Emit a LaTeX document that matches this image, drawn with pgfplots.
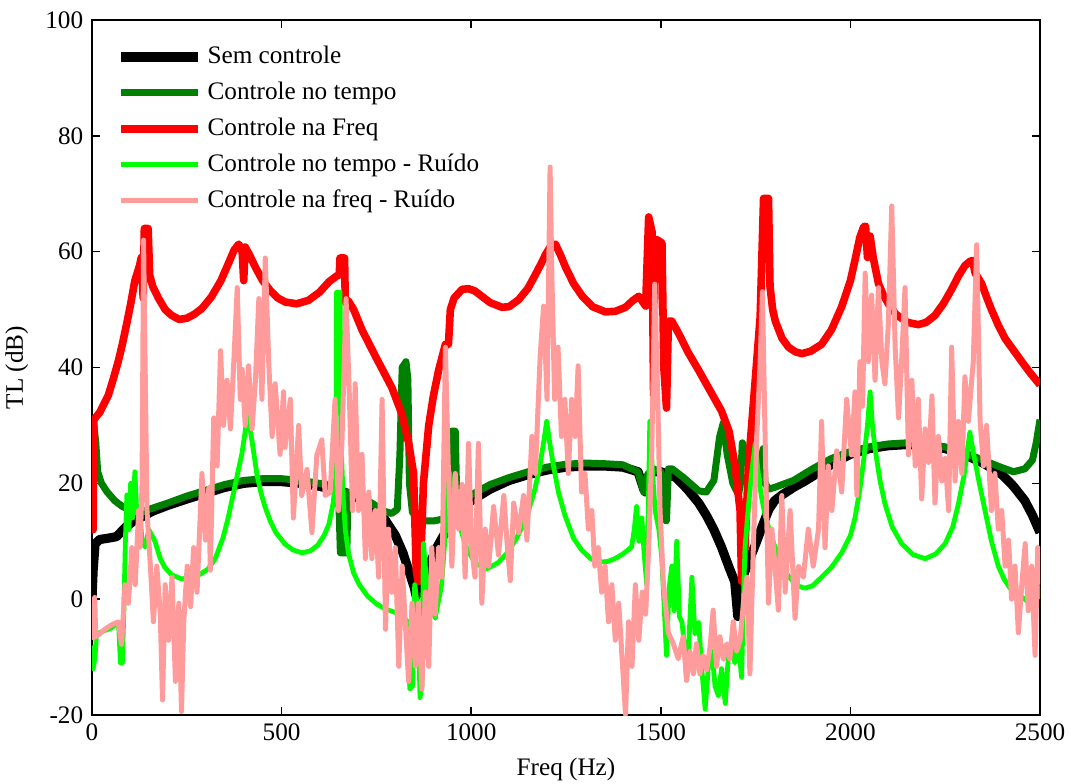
\documentclass[border=0pt]{standalone}
\usepackage{fontspec}
\setmainfont{Liberation Serif}
\usepackage{pgfplots}
\pgfplotsset{compat=1.18}
\definecolor{dkgreen}{RGB}{0,128,0}
\definecolor{ltgreen}{RGB}{0,255,0}
\definecolor{pinkn}{RGB}{255,155,155}
\begin{document}
\fontsize{12.6}{15}\selectfont
\begin{tikzpicture}
\useasboundingbox (-46pt,-34pt) rectangle (489.5pt,357.5pt);
\begin{axis}[
  at={(0,0)}, anchor=south west,
  scale only axis, width=474pt, height=347.5pt,
  xmin=0, xmax=2500, ymin=-20, ymax=100,
  xtick={0,500,...,2500}, ytick={-20,0,...,100},
  tick align=inside, major tick length=4pt,
  /pgf/number format/assume math mode=true,
  /pgf/number format/1000 sep={},
  tick label style={font=\fontsize{12.6}{15}\selectfont},
  label style={font=\fontsize{12.6}{15}\selectfont},
  xlabel={Freq (Hz)}, ylabel={TL (dB)},
  axis line style={line width=0.75pt},
  every tick/.style={line width=0.75pt, black},
  legend cell align=left,
  legend image code/.code={\draw[#1, line cap=butt] (0pt,0pt) -- (38.5pt,0pt); \path (39pt,0pt);},
  legend style={draw=none, fill=none, at={(0,1)}, anchor=north west,
    xshift=12pt, yshift=-11pt, inner sep=0pt, row sep=3.3pt,
    font=\fontsize{12.6}{15}\selectfont},
  every axis plot/.append style={line join=round},
]
% Sem controle
\addplot[black, line width=4.6pt] coordinates {
(0,0) (3,5) (8,9.5) (20,10.3) (40,10.5) (65,10.8) (75,11.5) (90,12.5) (110,13.5) (140,14.5) (160,15.2) (200,16.2) (250,17.3) (300,18.3) (350,19.3) (400,20) (450,20.3) (500,20.3) (550,20) (600,19.5) (640,18.8) (655,18) (660,16) (665,18.5) (700,17.5) (740,16) (770,14) (800,11) (820,8) (840,4) (850,2) (855,0.5) (860,2) (870,3) (890,6) (910,9) (940,12.5) (970,15) (1000,17) (1050,19) (1100,20.5) (1150,21.5) (1200,22.3) (1250,22.8) (1300,23) (1350,23) (1400,22.8) (1440,22) (1455,19) (1460,18.5) (1470,21.5) (1480,22) (1500,22) (1520,21.5) (1540,21) (1570,19) (1600,16.6) (1620,14.5) (1640,12) (1660,9) (1680,5.5) (1695,3) (1703,-3) (1710,1) (1720,4.5) (1735,7) (1750,9.5) (1770,13) (1785,15.5) (1800,17) (1820,18) (1850,19.3) (1880,20.4) (1920,22) (1960,23.7) (2000,25) (2050,26) (2100,26.5) (2150,26.7) (2200,26.5) (2250,26) (2300,25) (2350,23.5) (2400,21.5) (2430,19.5) (2460,17) (2480,14.5) (2500,11.5)
};
\addlegendentry{Sem controle}
% Controle no tempo
\addplot[dkgreen, line width=3.5pt] coordinates {
(0,30) (5,30) (10,27) (15,22) (25,20) (40,18.5) (60,17) (80,16) (100,15.5) (130,15) (150,15.5) (200,16.6) (250,17.8) (300,18.8) (350,19.8) (400,20.5) (450,20.8) (500,20.8) (550,20.5) (600,20) (640,19.5) (650,19) (655,8) (672,8) (675,18.5) (700,18) (740,16.5) (770,15.2) (790,14.8) (805,15.5) (812,25) (818,40) (828,41) (833,38) (837,20) (845,15) (860,14) (880,13.5) (900,13.5) (940,14) (945,14.5) (948,29) (958,29) (962,17) (980,17.5) (1000,18) (1050,19.8) (1100,21) (1150,22) (1200,22.8) (1250,23.3) (1300,23.5) (1350,23.4) (1400,23.2) (1440,22) (1455,18.5) (1465,21.5) (1480,22.5) (1500,22) (1505,14) (1515,13.5) (1520,22.5) (1530,22.5) (1560,21) (1600,18.7) (1620,18.5) (1640,20.5) (1655,28) (1665,30.5) (1675,25) (1690,20) (1705,18) (1710,20) (1715,27) (1720,26) (1740,21) (1760,22) (1770,26) (1775,20) (1785,19) (1800,19.3) (1850,20.5) (1900,22.5) (1950,24.3) (2000,25.5) (2050,26.3) (2100,26.8) (2150,27) (2200,26.8) (2250,26.3) (2300,25.3) (2350,24) (2400,22.7) (2430,22) (2460,22.5) (2480,24) (2490,27) (2500,31)
};
\addlegendentry{Controle no tempo}
% Controle na Freq
\addplot[red, line width=3.8pt] coordinates {
(0,12) (3,12) (5,31) (21,32.3) (30,33.5) (43,35.2) (56,38) (69,41) (80,44) (91,47.4) (102,51) (113,55) (125,57.5) (130,59) (135,52) (138,64) (148,64) (152,56) (160,54) (175,52) (193,50) (210,49) (230,48.3) (250,48.5) (270,49.2) (290,50.2) (315,52.2) (340,55) (360,58) (375,60.3) (387,61.3) (396,60) (400,55) (404,60.8) (415,59.5) (431,57.3) (450,55) (470,53.3) (490,52) (510,51.3) (540,51) (571,51.6) (600,53) (625,54.8) (645,55.8) (652,56) (654,58.9) (666,58.9) (668,51.2) (676,51.5) (690,50) (712,46.5) (747,42) (791,36.5) (817,32) (835,27) (848,21.7) (855,5) (860,3) (865,5) (870,12) (874,20) (888,30) (900,35) (914,39.5) (932,44) (940,44) (945,50) (955,52) (976,53.5) (993,53.6) (1010,53.2) (1028,52.3) (1050,51.2) (1081,50.4) (1100,50.5) (1125,51.7) (1150,53.7) (1169,56) (1185,58) (1196,59.5) (1210,61) (1222,61.3) (1235,59.5) (1249,57.3) (1270,54.5) (1293,52.3) (1320,50.5) (1354,49.6) (1380,49.7) (1407,50.4) (1425,51.5) (1442,52.3) (1460,50.6) (1468,66) (1477,63.4) (1481,35.2) (1485,62) (1489,62.1) (1503,61.5) (1508,40) (1515,33) (1520,48) (1529,48) (1546,46) (1573,42.5) (1600,39.5) (1630,36) (1660,32.5) (1680,29) (1696,23) (1709,15.3) (1713,3.1) (1722,8.9) (1731,23) (1749,37.8) (1762,48.7) (1771,69.2) (1784,69.2) (1788,54) (1795,50) (1802,48) (1820,45) (1837,43.5) (1855,42.7) (1872,42.4) (1895,42.8) (1924,44) (1950,46.5) (1977,50.5) (2000,55) (2012,58.5) (2025,62.5) (2035,64.3) (2040,64.4) (2045,59) (2052,62.7) (2060,59) (2074,54.5) (2087,52.5) (2100,51) (2120,49.2) (2150,47.8) (2179,47.4) (2200,47.8) (2223,49) (2245,51) (2267,53.5) (2285,55.8) (2302,57.6) (2315,58.3) (2322,58.5) (2329,56.3) (2346,54.5) (2360,52) (2372,50) (2390,47.3) (2408,45) (2430,43) (2452,41) (2475,39) (2500,37)
};
\addlegendentry{Controle na Freq}
% Controle no tempo - Ruido
\addplot[ltgreen, line width=2.4pt] coordinates {
(0,-8) (3,-12) (8,-10) (12,-6) (30,-5.5) (50,-5) (70,-4) (75,-11) (80,-11) (84,-2) (88,10) (92,18) (97,12) (102,20) (107,14) (113,22) (118,15) (126,15) (132,10) (140,9) (150,12) (166,10) (180,7) (192,5.5) (210,4.2) (236,3.5) (260,3.7) (285,4.3) (306,5.2) (325,7) (345,10.5) (359,14) (372,18) (385,22) (395,25) (403,28.5) (410,32.5) (418,29) (425,26) (435,21.5) (445,18.5) (456,16) (470,13.5) (485,11.5) (509,9.5) (530,8.5) (553,8) (575,8.3) (595,9.3) (612,11) (625,13) (636,16.6) (643,21) (645,53) (654,53) (658,25) (662,18) (668,12) (676,8) (690,4.5) (705,2.5) (727,0.5) (750,-0.8) (773,-1.7) (800,-2.3) (816,-2.6) (833,-4) (838,-15.5) (845,-15) (851,2.5) (860,-2) (865,-17) (870,-15) (874,9.6) (880,5) (887,1.2) (905,-3.3) (922,2.5) (936,15.3) (942,22) (948,20) (955,16) (965,13.5) (975,11.5) (990,8.5) (1010,6.3) (1040,5.2) (1071,6.3) (1095,8) (1115,10) (1135,12.5) (1150,15) (1168,19) (1181,23) (1192,27.5) (1199,30.7) (1207,27) (1217,23) (1230,18.5) (1247,14.5) (1270,10.5) (1291,8.5) (1315,7) (1335,6.4) (1360,6.5) (1379,7) (1400,7.8) (1423,9) (1430,12) (1436,16) (1442,10) (1450,14) (1456,8) (1463,2.5) (1467,15) (1471,30.7) (1478,22) (1485,15.3) (1495,12) (1502,7.6) (1508,0) (1515,-9.7) (1522,2) (1529,5.7) (1535,-2) (1542,10) (1549,-3) (1556,-4) (1562,-8) (1568,-14) (1575,-6) (1582,3.8) (1590,-6) (1600,-4) (1608,-12) (1617,-19) (1625,-12) (1635,-9) (1643,-15) (1652,-16.7) (1660,-12) (1670,-18) (1678,-10) (1687,-7) (1695,-11) (1705,-8) (1713,-13.5) (1718,0) (1722,8.9) (1731,16) (1740,22) (1749,26.9) (1755,23) (1760,20) (1766,17.5) (1775,14.5) (1788,11.5) (1801,9) (1820,6) (1836,4) (1860,2.3) (1880,1.9) (1900,2.3) (1924,3.8) (1950,5.5) (1977,8) (2000,11) (2012,14) (2025,19) (2035,24) (2045,30) (2052,35.8) (2058,30) (2065,26) (2078,20.5) (2091,16.5) (2110,12.5) (2135,9.6) (2165,7.7) (2197,7) (2225,7.8) (2250,9.6) (2270,12.5) (2285,16.5) (2300,21.5) (2315,28.8) (2325,25) (2340,20) (2355,15.3) (2372,10) (2390,5.7) (2405,3.5) (2421,1.9) (2440,0.8) (2460,0) (2483,-1.3) (2492,2.5) (2500,0)
};
\addlegendentry{Controle no tempo - Ruído}
% Controle na freq - Ruido
\addplot[pinkn, line width=2.5pt] coordinates {
(0,-7) (4,-6.5) (7,0.3) (10,-6.5) (20,-6) (34,-5.2) (50,-4.5) (69,-3.9) (78,-7.8) (87,2.5) (96,-0.7) (105,8.9) (114,2.5) (123,15.3) (127,9) (132,20) (136,62) (140,41) (145,15.3) (154,5.7) (162,-3.9) (171,5.7) (180,-2.6) (186,-17.4) (193,2.5) (202,-7.1) (211,3.8) (220,-14.2) (229,-0.7) (236,-19.4) (242,-3.9) (251,5.7) (260,-1.3) (268,8.9) (277,1.2) (290,21.7) (299,10.2) (308,19.2) (312,5) (321,31.3) (330,23) (339,42.9) (347,30) (356,37.8) (365,29.4) (374,41) (383,53.8) (391,34.5) (396,39.7) (404,30) (413,40.3) (422,29.4) (431,37.8) (440,51.9) (448,34.5) (457,58.9) (466,41) (475,28.1) (483,37.2) (496,25) (505,35.8) (509,26.2) (523,34.5) (531,14) (545,30) (553,17.9) (567,22.4) (580,11.5) (593,24.9) (606,27.5) (615,17.9) (628,18.5) (641,34.5) (650,15.3) (659,26.9) (670,51.9) (679,34.5) (687,15.3) (694,37.2) (703,15.3) (712,25) (721,7) (730,18.5) (738,7) (747,15.3) (756,3.8) (765,34.5) (774,-5.2) (782,12.1) (791,1.2) (800,8.9) (809,-11.6) (818,5.7) (826,-3.9) (835,-14.2) (844,-0.7) (853,-11.6) (861,-0.7) (870,-15.5) (879,1.2) (888,-11.6) (896,8.9) (905,-2.6) (914,8.9) (923,3.8) (932,43.5) (940,21.7) (949,5.7) (958,21.7) (967,12.1) (976,19.8) (984,3.8) (993,26.9) (1001,8.9) (1010,3.8) (1019,26.9) (1028,-0.7) (1037,12.1) (1046,5.7) (1059,16) (1072,7.6) (1086,17.9) (1094,10.2) (1103,3.2) (1112,16.6) (1125,11.5) (1138,17.9) (1147,10.2) (1160,28.1) (1169,21.7) (1182,42.2) (1191,50.6) (1200,34.5) (1208,74.6) (1213,55) (1220,34.5) (1229,43.5) (1238,28.1) (1247,34.5) (1256,21.7) (1265,34.5) (1274,28.1) (1282,40.3) (1291,18.5) (1300,21.7) (1309,12.1) (1318,15.3) (1326,5.7) (1335,8.9) (1344,1.2) (1353,5.7) (1362,-3.9) (1371,2.5) (1380,-7.1) (1389,-0.7) (1398,-10.3) (1407,-19.9) (1415,-3.9) (1424,-11.6) (1433,2.5) (1442,-7.1) (1451,1.2) (1460,-2.6) (1468,8.9) (1476,24.9) (1484,54.4) (1492,34.5) (1498,15.3) (1507,2.5) (1520,-5.8) (1533,-7.7) (1546,-10.3) (1559,-6.5) (1568,-14) (1577,-9) (1586,-12.9) (1594,-7.7) (1603,-12.9) (1612,-9.7) (1621,-12.2) (1630,-8.3) (1638,-1.9) (1647,-11.6) (1656,-6.5) (1665,-10.3) (1674,-7.7) (1682,-10.3) (1691,-3.9) (1700,-9) (1709,-7.1) (1718,-0.7) (1727,3.8) (1735,-12.9) (1744,8.9) (1753,28.1) (1762,41) (1768,53.1) (1775,28.1) (1784,-0.7) (1793,12.1) (1801,5.7) (1810,-1.9) (1819,17.9) (1828,1.2) (1841,15.3) (1854,-3.3) (1863,5.7) (1876,3.8) (1889,12.1) (1902,5.7) (1916,12.1) (1924,30.7) (1933,8.9) (1942,23) (1951,15.3) (1964,25.6) (1977,18.5) (1990,34.5) (2003,24.9) (2012,35.8) (2017,17.9) (2025,41) (2032,33.3) (2039,56.3) (2047,41) (2056,52.5) (2065,37.8) (2074,53.8) (2083,41) (2091,37.2) (2100,47.4) (2109,67.9) (2118,43.5) (2127,31.3) (2135,41) (2144,53.8) (2153,24.9) (2162,37.8) (2171,23) (2179,34.5) (2188,17.3) (2197,29.4) (2206,23.6) (2215,35.1) (2223,16.6) (2232,28.1) (2241,20.4) (2250,24.3) (2259,15.3) (2267,43.5) (2276,20.4) (2285,30.7) (2294,21.7) (2302,38.4) (2311,30.7) (2324,41) (2333,61.2) (2342,30.7) (2351,23) (2359,30) (2372,15.3) (2381,21.7) (2390,12.1) (2399,15.3) (2408,5.7) (2417,10.2) (2425,0) (2434,5.7) (2443,-5.8) (2452,2.5) (2461,9.6) (2469,-2) (2478,5.7) (2487,-9.7) (2494,8.9) (2500,2.5)
};
\addlegendentry{Controle na freq - Ruído}
\end{axis}
\end{tikzpicture}
\end{document}
